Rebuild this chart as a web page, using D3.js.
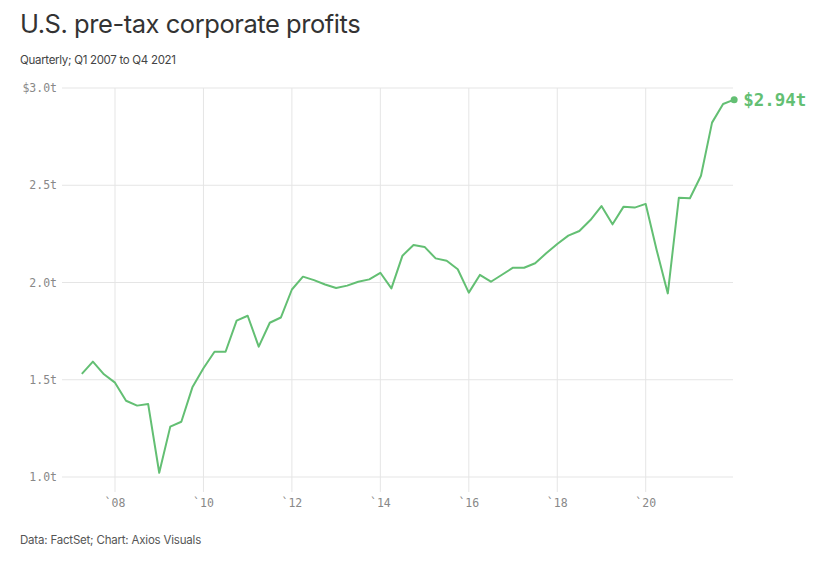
<!DOCTYPE html>
<html>
<head>
<meta charset="utf-8">
<script src="https://cdn.jsdelivr.net/npm/d3@7"></script>
<style>
  body { margin: 0; background: #fff; }
  svg { display: block; }
</style>
</head>
<body>
<div id="chart"></div>
<script>
// quarters Q1 2007 .. Q4 2021, values in $ trillions
const years = d3.range(2007, 2022)
const quarters = years.flatMap(y => [1, 2, 3, 4].map(q => y + q / 4)) // plotted at end of quarter
const profits = [
  1.53, 1.593, 1.528, 1.485,
  1.392, 1.367, 1.375, 1.022,
  1.259, 1.284, 1.461, 1.559,
  1.644, 1.644, 1.804, 1.829,
  1.670, 1.793, 1.820, 1.964,
  2.030, 2.012, 1.990, 1.972,
  1.984, 2.004, 2.016, 2.050,
  1.970, 2.138, 2.193, 2.183,
  2.124, 2.112, 2.068, 1.948,
  2.039, 2.004, 2.040, 2.076,
  2.076, 2.099, 2.150, 2.198,
  2.241, 2.265, 2.321, 2.393,
  2.299, 2.390, 2.385, 2.404,
  2.165, 1.944, 2.436, 2.433,
  2.549, 2.822, 2.918, 2.940
]
const yTicks = [1.0, 1.5, 2.0, 2.5, 3.0]
const xTicks = [2008, 2010, 2012, 2014, 2016, 2018, 2020]

const W = 816, H = 572
const green = '#63bf73'
const svg = d3.select('#chart').append('svg')
  .attr('width', W).attr('height', H)

const x = d3.scaleLinear().domain([2008, 2020]).range([115, 645.7])
const y = d3.scaleLinear().domain([1, 3]).range([477, 88])
const left = 62, right = 733

// titles
svg.append('text').attr('x', 20).attr('y', 33)
  .style('font-family', 'Inter, Roboto, sans-serif').style('font-size', '25.5px')
  .style('fill', '#333').style('letter-spacing', '-0.45px')
  .text('U.S. pre-tax corporate profits')
svg.append('text').attr('x', 20).attr('y', 64)
  .style('font-family', 'Inter, Roboto, sans-serif').style('font-size', '11.5px')
  .style('fill', '#444').style('letter-spacing', '-0.3px')
  .text('Quarterly; Q1 2007 to Q4 2021')
svg.append('text').attr('x', 20).attr('y', 544)
  .style('font-family', 'Inter, Roboto, sans-serif').style('font-size', '11.5px')
  .style('fill', '#555').style('letter-spacing', '-0.2px')
  .text('Data: FactSet; Chart: Axios Visuals')

// grid
const grid = svg.append('g')
grid.selectAll('line.h').data(yTicks).join('line')
  .attr('x1', left).attr('x2', right)
  .attr('y1', d => y(d)).attr('y2', d => y(d))
  .attr('stroke', '#e5e5e5').attr('stroke-width', 1)
grid.selectAll('line.v').data(xTicks).join('line')
  .attr('x1', d => x(d)).attr('x2', d => x(d))
  .attr('y1', y(3)).attr('y2', 492)
  .attr('stroke', '#e5e5e5').attr('stroke-width', 1)

// y labels
svg.append('g').selectAll('text').data(yTicks).join('text')
  .attr('x', 57).attr('y', d => y(d)).attr('dy', '0.35em')
  .attr('text-anchor', 'end')
  .style('font-family', '"DejaVu Sans Mono", monospace').style('font-size', '11.5px')
  .style('fill', '#888')
  .text(d => (d === 3 ? '$' : '') + d.toFixed(1) + 't')

// x labels
svg.append('g').selectAll('text').data(xTicks).join('text')
  .attr('x', d => x(d)).attr('y', 507)
  .attr('text-anchor', 'middle')
  .style('font-family', '"DejaVu Sans Mono", monospace').style('font-size', '11.5px')
  .style('fill', '#888')
  .text(d => '`' + String(d).slice(2))

// line
const data = quarters.map((q, i) => [q, profits[i]])
svg.append('path').datum(data)
  .attr('fill', 'none').attr('stroke', green).attr('stroke-width', 2)
  .attr('stroke-linejoin', 'round')
  .attr('d', d3.line().x(d => x(d[0])).y(d => y(d[1])))

const last = data[data.length - 1]
svg.append('circle').attr('cx', x(last[0])).attr('cy', y(last[1])).attr('r', 3.5).attr('fill', green)
svg.append('text').attr('x', x(last[0]) + 9).attr('y', y(last[1])).attr('dy', '0.35em')
  .style('font-family', '"DejaVu Sans Mono", monospace').style('font-size', '17.5px')
  .style('font-weight', 'bold').style('fill', green)
  .text('$' + last[1].toFixed(2) + 't')
</script>
</body>
</html>
